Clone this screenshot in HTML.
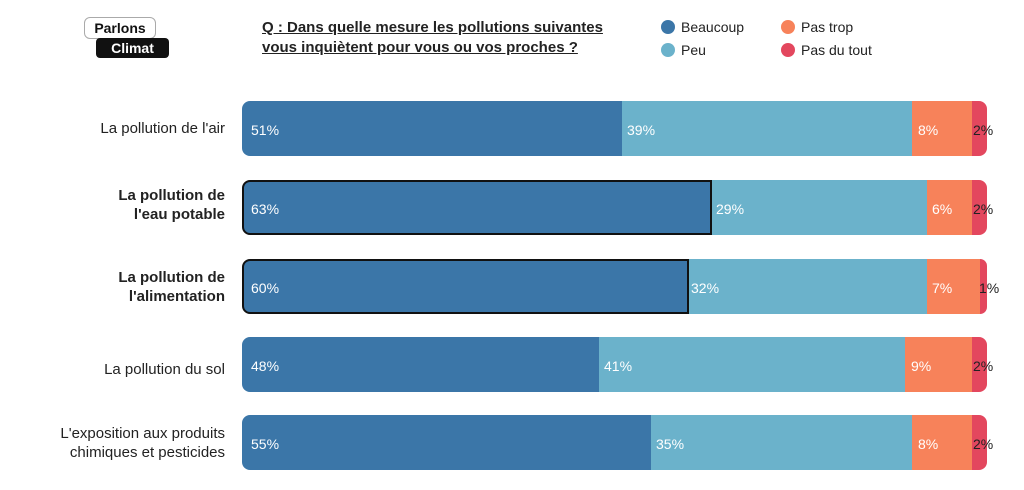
<!DOCTYPE html><html><head><meta charset="utf-8"><style>
body{margin:0;width:1024px;height:490px;background:#fff;font-family:"Liberation Sans",sans-serif;position:relative;overflow:hidden}
.a{position:absolute}
.bar{position:absolute;left:242px;width:745px;height:55px}
.s{position:absolute;top:0;height:55px}
.bar .s:first-child{border-radius:8px 0 0 8px}
.d4.s{border-radius:0 8px 8px 0}
.t{position:absolute;top:21px;font-size:14px;color:#fff}
.lab{position:absolute;right:799px;text-align:right;font-size:15px;color:#222;line-height:19px}
.d1{background:#3b76a8}.d2{background:#6bb2cb}.d3{background:#f7825a}.d4{background:#e3475e}
.lg{position:absolute;font-size:14px;color:#222}
.lg i{position:absolute;left:-20px;top:1px;width:14px;height:14px;border-radius:50%}
</style></head><body>
<div class="a" style="left:84px;top:17px;width:70px;height:20px;border:1.5px solid #aaa;border-radius:6px;font-weight:bold;font-size:14px;text-align:center;line-height:20px;color:#111">Parlons</div>
<div class="a" style="left:96px;top:38px;width:73px;height:20px;background:#111;border-radius:4px;color:#fff;font-weight:bold;font-size:14px;text-align:center;line-height:20px">Climat</div>
<div class="a" style="left:262px;top:18px;font-size:15px;font-weight:bold;color:#222;text-decoration:underline;line-height:20px">Q : Dans quelle mesure les pollutions suivantes<br>vous inquiètent pour vous ou vos proches ?</div>
<div class="lg" style="left:681px;top:19px"><i class="d1"></i>Beaucoup</div>
<div class="lg" style="left:681px;top:42px"><i class="d2"></i>Peu</div>
<div class="lg" style="left:801px;top:19px"><i class="d3"></i>Pas trop</div>
<div class="lg" style="left:801px;top:42px"><i class="d4"></i>Pas du tout</div>

<div class="lab" style="top:119px">La pollution de l'air</div>
<div class="lab" style="top:186px;font-weight:bold">La pollution de<br>l'eau potable</div>
<div class="lab" style="top:268px;font-weight:bold">La pollution de<br>l'alimentation</div>
<div class="lab" style="top:360px">La pollution du sol</div>
<div class="lab" style="top:424px">L'exposition aux produits<br>chimiques et pesticides</div>

<div class="bar" style="top:101px"><div class="s d1" style="left:0;width:380px"></div><div class="s d2" style="left:380px;width:290px"></div><div class="s d3" style="left:670px;width:60px"></div><div class="s d4" style="left:730px;width:15px"></div>
<span class="t" style="left:9px">51%</span><span class="t" style="left:385px">39%</span><span class="t" style="left:676px">8%</span><span class="t" style="left:731px;color:#222">2%</span></div>

<div class="bar" style="top:180px"><div class="s d1" style="left:0;width:470px;box-sizing:border-box;border:2px solid #111;border-radius:8px 0 0 8px"></div><div class="s d2" style="left:470px;width:215px"></div><div class="s d3" style="left:685px;width:45px"></div><div class="s d4" style="left:730px;width:15px"></div>
<span class="t" style="left:9px">63%</span><span class="t" style="left:474px">29%</span><span class="t" style="left:690px">6%</span><span class="t" style="left:731px;color:#222">2%</span></div>

<div class="bar" style="top:259px"><div class="s d1" style="left:0;width:447px;box-sizing:border-box;border:2px solid #111;border-radius:8px 0 0 8px"></div><div class="s d2" style="left:447px;width:238px"></div><div class="s d3" style="left:685px;width:53px"></div><div class="s d4" style="left:738px;width:7px"></div>
<span class="t" style="left:9px">60%</span><span class="t" style="left:449px">32%</span><span class="t" style="left:690px">7%</span><span class="t" style="left:737px;color:#222">1%</span></div>

<div class="bar" style="top:337px"><div class="s d1" style="left:0;width:357px"></div><div class="s d2" style="left:357px;width:306px"></div><div class="s d3" style="left:663px;width:67px"></div><div class="s d4" style="left:730px;width:15px"></div>
<span class="t" style="left:9px">48%</span><span class="t" style="left:362px">41%</span><span class="t" style="left:669px">9%</span><span class="t" style="left:731px;color:#222">2%</span></div>

<div class="bar" style="top:415px"><div class="s d1" style="left:0;width:409px"></div><div class="s d2" style="left:409px;width:261px"></div><div class="s d3" style="left:670px;width:60px"></div><div class="s d4" style="left:730px;width:15px"></div>
<span class="t" style="left:9px">55%</span><span class="t" style="left:414px">35%</span><span class="t" style="left:676px">8%</span><span class="t" style="left:731px;color:#222">2%</span></div>
</body></html>
